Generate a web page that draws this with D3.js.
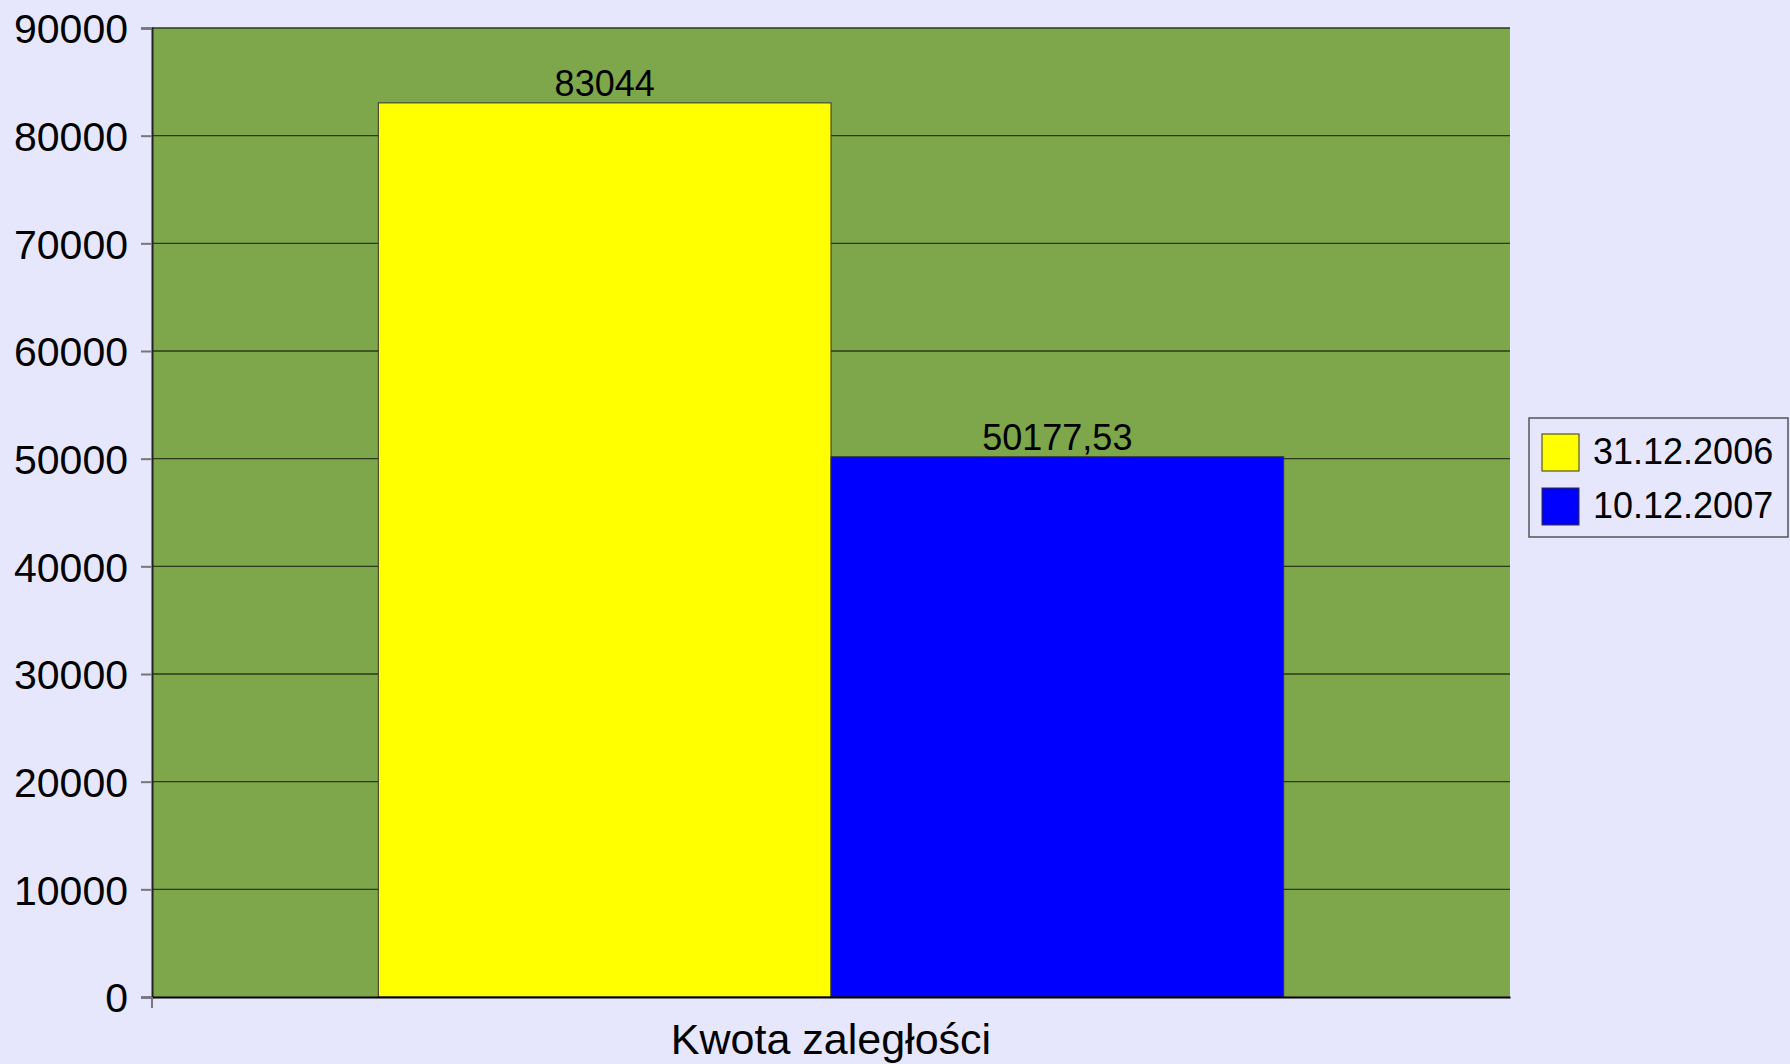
<!DOCTYPE html>
<html>
<head>
<meta charset="utf-8">
<script src="https://cdn.jsdelivr.net/npm/d3@7"></script>
<style>
  body { margin: 0; background: #e6e6fc; }
  text { font-family: "Liberation Sans", Arial, sans-serif; fill: #000; }
</style>
</head>
<body>
<div class="canva"></div>
<script>
// data
const categories = ["Kwota zaległości"];
const seriesNames = ["31.12.2006", "10.12.2007"];
const seriesValues = [83044, 50177.53];
const valueLabels = ["83044", "50177,53"];
const seriesColors = ["#ffff00", "#0000ff"];
const yTicks = [0, 10000, 20000, 30000, 40000, 50000, 60000, 70000, 80000, 90000];

const width = 1790, height = 1064;
const margin = {top: 28, right: 280, bottom: 67, left: 152};
const graphWidth = width - margin.left - margin.right;
const graphHeight = height - margin.top - margin.bottom;

const svg = d3.select(".canva").append("svg")
    .attr("width", width)
    .attr("height", height);

svg.append("rect").attr("width", width).attr("height", height).attr("fill", "#e6e6fc");

const g = svg.append("g")
    .attr("transform", `translate(${margin.left}, ${margin.top})`);

// scales
const x = d3.scaleBand().domain(categories).range([0, graphWidth]).paddingInner(0).paddingOuter(0);
const xs = d3.scaleBand().domain(seriesNames).range([x.bandwidth() / 6, x.bandwidth() * 5 / 6]);
const y = d3.scaleLinear().domain([0, 90000]).range([graphHeight, 0]);

// plot background
g.append("rect")
    .attr("width", graphWidth).attr("height", graphHeight)
    .attr("fill", "#7ea64a");

// grid lines
g.selectAll(".grid").data(yTicks.slice(1)).enter().append("line")
    .attr("x1", 0).attr("x2", graphWidth)
    .attr("y1", d => y(d)).attr("y2", d => y(d))
    .attr("stroke", "#2d3a1a").attr("stroke-width", 1.3);

// bars
const bars = seriesNames.map((s, i) => ({name: s, value: seriesValues[i], label: valueLabels[i], color: seriesColors[i]}));
g.selectAll(".bar").data(bars).enter().append("rect")
    .attr("x", d => x(categories[0]) + xs(d.name))
    .attr("y", d => y(d.value))
    .attr("width", xs.bandwidth())
    .attr("height", d => graphHeight - y(d.value))
    .attr("fill", d => d.color)
    .attr("stroke", "#333").attr("stroke-width", 1);

g.selectAll(".vlabel").data(bars).enter().append("text")
    .attr("x", d => x(categories[0]) + xs(d.name) + xs.bandwidth() / 2)
    .attr("y", d => y(d.value) - 7)
    .attr("text-anchor", "middle")
    .style("font-size", "36px")
    .text(d => d.label);

// y axis
const yAxis = d3.axisLeft(y).tickValues(yTicks).tickSize(11).tickPadding(13).tickFormat(d3.format("d"));
const yg = g.append("g").call(yAxis);
yg.select(".domain").attr("stroke", "#222").attr("stroke-width", 2);
yg.selectAll(".tick line").attr("stroke", "#777").attr("stroke-width", 2);
yg.selectAll(".tick text").style("font-size", "41px").attr("dy", "0.36em");

// x axis
const xAxis = d3.axisBottom(x).tickSize(0);
const xg = g.append("g").attr("transform", `translate(0, ${graphHeight})`).call(xAxis);
xg.select(".domain").attr("stroke", "#000").attr("stroke-width", 2);
xg.selectAll(".tick text").style("font-size", "43px").attr("y", 57).attr("dy", 0);
g.append("line")
    .attr("x1", 0).attr("x2", 0).attr("y1", graphHeight).attr("y2", graphHeight + 11)
    .attr("stroke", "#777").attr("stroke-width", 2);

// legend
const legend = svg.append("g").attr("transform", "translate(1529, 418)");
legend.append("rect")
    .attr("width", 259).attr("height", 119)
    .attr("fill", "#e6e6fc").attr("stroke", "#555").attr("stroke-width", 1.5);
const items = legend.selectAll(".item").data(bars).enter().append("g")
    .attr("transform", (d, i) => `translate(13, ${16 + i * 54})`);
items.append("rect")
    .attr("width", 37).attr("height", 37)
    .attr("fill", d => d.color).attr("stroke", "#333").attr("stroke-width", 1);
items.append("text")
    .attr("x", 51).attr("y", 30)
    .style("font-size", "36px")
    .text(d => d.name);
</script>
</body>
</html>
